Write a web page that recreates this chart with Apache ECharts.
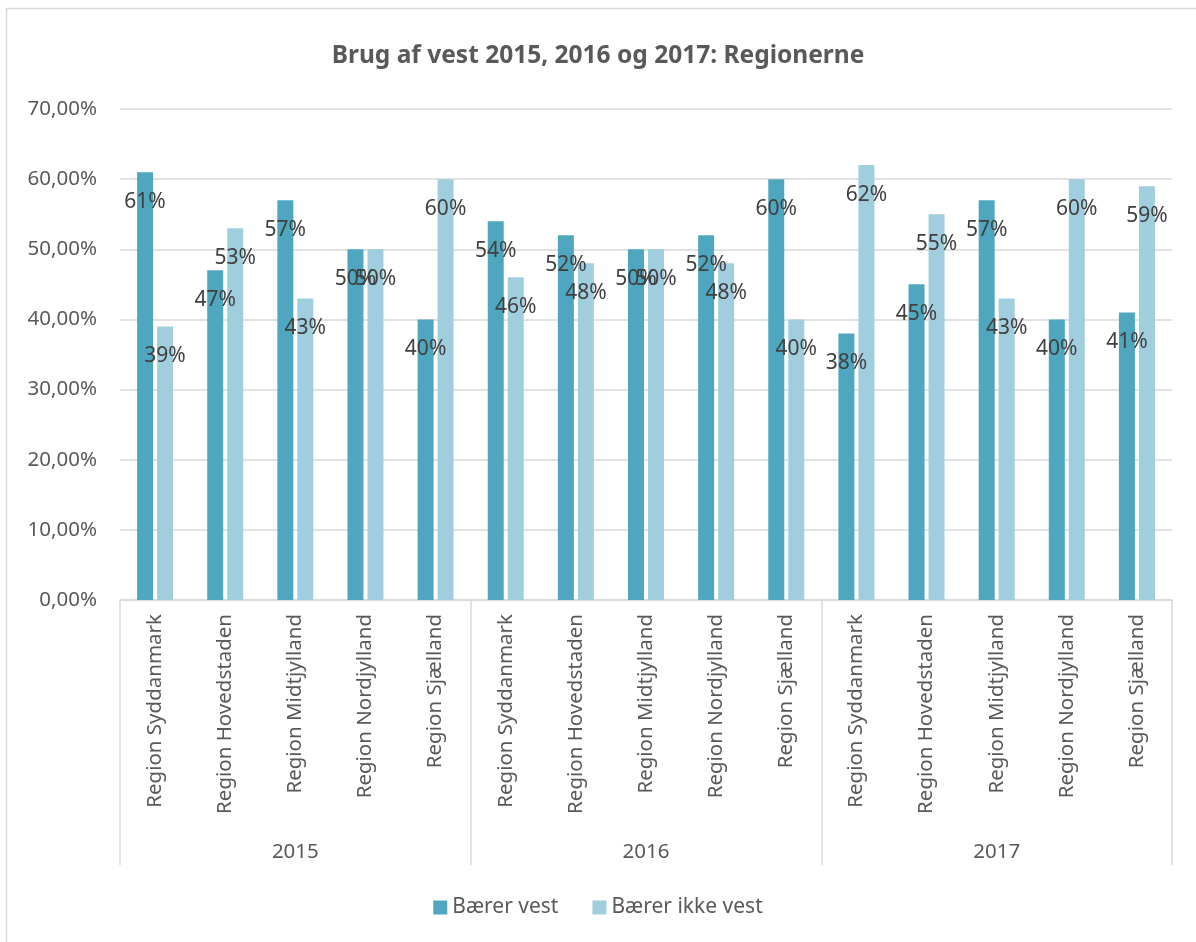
<!DOCTYPE html>
<html>
<head>
<meta charset="utf-8">
<script src="https://cdn.jsdelivr.net/npm/echarts@6/dist/echarts.min.js"></script>
<style>html,body{margin:0;padding:0;background:#fff}#c{width:1196px;height:942px}</style>
</head>
<body>
<div id="c"></div>
<script>
const regions = ['Region Syddanmark','Region Hovedstaden','Region Midtjylland','Region Nordjylland','Region Sjælland'];
const years = ['2015','2016','2017'];
const categories = [].concat(regions, regions, regions);
const baererVest = [61,47,57,50,40, 54,52,50,52,60, 38,45,57,40,41];
const baererIkkeVest = [39,53,43,50,60, 46,48,50,48,40, 62,55,43,60,59];
const yTicks = [0,10,20,30,40,50,60,70];

const FONT = 'Noto Sans';
const chart = echarts.init(document.getElementById('c'));
const labelCfg = {
  show: true, position: 'insideTop', distance: 19,
  formatter: p => p.value + '%', color: '#404040', fontSize: 21, fontFamily: FONT
};
chart.setOption({
  backgroundColor: '#fff',
  animation: false,
  title: {
    text: 'Brug af vest 2015, 2016 og 2017: Regionerne',
    left: 'center', top: 39,
    textStyle: { color: '#595959', fontSize: 24.5, fontWeight: 'bold', fontFamily: FONT }
  },
  legend: {
    bottom: 19, left: 'center', itemWidth: 14, itemHeight: 14, itemGap: 34,
    icon: 'rect',
    textStyle: { color: '#595959', fontSize: 21, fontFamily: FONT }
  },
  grid: { left: 120, right: 24, top: 109, bottom: 342 },
  xAxis: [
    {
      type: 'category', data: categories, position: 'bottom',
      axisLine: { show: true, lineStyle: { color: '#d9d9d9', width: 1.5 } },
      axisTick: { show: false },
      axisLabel: { interval: 0, rotate: 90, margin: 14, color: '#595959', fontSize: 20.5, fontFamily: FONT }
    },
    {
      type: 'category', data: years, position: 'bottom',
      axisLine: { show: false },
      axisTick: { show: true, length: 265, lineStyle: { color: '#d9d9d9', width: 1.5 } },
      axisLabel: { margin: 242, color: '#595959', fontSize: 20.5, fontFamily: FONT }
    }
  ],
  yAxis: {
    type: 'value', min: 0, max: 70, interval: 10,
    axisLine: { show: false }, axisTick: { show: false },
    splitLine: { lineStyle: { color: '#d9d9d9', width: 1.5 } },
    axisLabel: {
      margin: 23, color: '#595959', fontSize: 20.5, fontFamily: FONT,
      formatter: v => yTicks.includes(v) ? v.toFixed(2).replace('.', ',') + '%' : ''
    }
  },
  series: [
    {
      name: 'Bærer vest', type: 'bar', data: baererVest, xAxisIndex: 0,
      barWidth: 16, barGap: '25%',
      itemStyle: { color: '#4EA7BF' }, label: labelCfg
    },
    {
      name: 'Bærer ikke vest', type: 'bar', data: baererIkkeVest, xAxisIndex: 0,
      barWidth: 16, barGap: '25%',
      itemStyle: { color: '#A1CEDE' }, label: labelCfg
    }
  ],
  graphic: [
    { type: 'rect', shape: { x: 6.5, y: 8.5, width: 1300, height: 1100 },
      style: { fill: 'none', stroke: '#d9d9d9', lineWidth: 1.5 }, silent: true, z: -1 }
  ]
});
</script>
</body>
</html>
